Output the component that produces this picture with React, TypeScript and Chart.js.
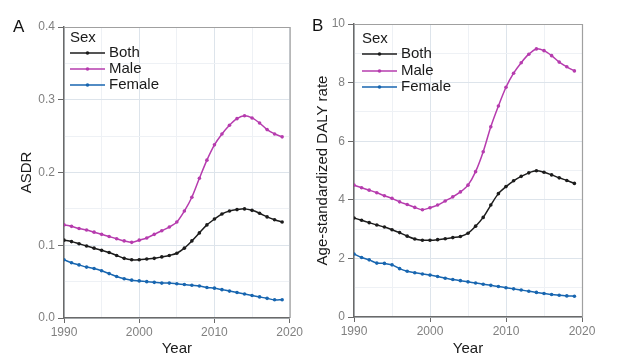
import React, { useEffect, useRef } from "react";
import { Chart, registerables } from "chart.js";

Chart.register(...registerables);

const years = [1990,1991,1992,1993,1994,1995,1996,1997,1998,1999,2000,2001,2002,2003,2004,2005,2006,2007,2008,2009,2010,2011,2012,2013,2014,2015,2016,2017,2018,2019];

const seriesLabels = ["Both", "Male", "Female"];

const asdrBoth = [0.107,0.105,0.102,0.099,0.096,0.093,0.090,0.086,0.082,0.080,0.080,0.081,0.082,0.084,0.086,0.089,0.096,0.106,0.117,0.128,0.136,0.143,0.147,0.149,0.150,0.148,0.144,0.139,0.135,0.132];
const asdrMale = [0.128,0.126,0.123,0.121,0.118,0.115,0.112,0.109,0.106,0.104,0.107,0.110,0.115,0.120,0.125,0.132,0.147,0.166,0.192,0.217,0.238,0.253,0.265,0.274,0.278,0.275,0.268,0.259,0.253,0.249];
const asdrFemale = [0.080,0.076,0.073,0.070,0.068,0.065,0.061,0.057,0.054,0.052,0.051,0.050,0.049,0.048,0.048,0.047,0.046,0.045,0.044,0.042,0.041,0.039,0.037,0.035,0.033,0.031,0.029,0.027,0.025,0.025];

const dalyBoth = [3.38,3.30,3.22,3.14,3.07,2.98,2.88,2.76,2.66,2.62,2.62,2.64,2.67,2.71,2.75,2.86,3.10,3.40,3.82,4.21,4.45,4.65,4.80,4.92,4.99,4.94,4.85,4.75,4.66,4.56];
const dalyMale = [4.50,4.41,4.33,4.24,4.14,4.05,3.93,3.84,3.74,3.66,3.73,3.82,3.96,4.10,4.27,4.50,4.96,5.64,6.49,7.20,7.84,8.32,8.68,8.97,9.15,9.09,8.92,8.70,8.54,8.40];
const dalyFemale = [2.15,2.03,1.95,1.84,1.83,1.78,1.65,1.56,1.51,1.47,1.43,1.38,1.32,1.28,1.24,1.20,1.16,1.12,1.08,1.04,1.00,0.96,0.92,0.88,0.84,0.80,0.77,0.74,0.72,0.71];

const colors = ["#1c1c1c", "#b63cae", "#1866b0"];

type PanelCfg = {
  letter: string;
  width: number;
  left: number;
  series: number[][];
  yMax: number;
  yStep: number;
  yTitle: string;
  yDecimals: number;
  axisWidth: number;
  padTop: number;
  padRight: number;
  xHeight: number;
  yTitlePad: number;
  legend: { dx: number; titleDy: number; rows: number[]; lineLen: number; textGap: number };
  letterPos: [number, number];
};

function Panel({ cfg }: { cfg: PanelCfg }) {
  const ref = useRef<HTMLCanvasElement>(null);
  useEffect(() => {
    if (!ref.current) return;
    const datasets = cfg.series.map((vals, i) => ({
      label: seriesLabels[i],
      data: years.map((y, j) => ({ x: y, y: vals[j] })),
      borderColor: colors[i],
      backgroundColor: colors[i],
      borderWidth: 1.5,
      pointRadius: 1.8,
      pointBorderWidth: 0,
      pointBackgroundColor: colors[i],
      tension: 0.3,
    }));
    const overlay = {
      id: "overlay",
      afterDraw(chart: any) {
        const ctx = chart.ctx;
        const a = chart.chartArea;
        ctx.save();
        ctx.strokeStyle = "#a0a0a0";
        ctx.lineWidth = 1.2;
        ctx.beginPath();
        ctx.moveTo(a.left, a.top + 0.5);
        ctx.lineTo(a.right + 0.5, a.top + 0.5);
        ctx.lineTo(a.right + 0.5, a.bottom);
        ctx.stroke();
        // legend
        const lg = cfg.legend;
        const x0 = a.left + lg.dx;
        ctx.fillStyle = "#1a1a1a";
        ctx.font = "15px 'Liberation Sans', Arial, sans-serif";
        ctx.textBaseline = "middle";
        ctx.textAlign = "left";
        ctx.fillText("Sex", x0, a.top + lg.titleDy);
        chart.data.datasets.forEach((ds: any, i: number) => {
          const yy = a.top + lg.rows[i];
          ctx.strokeStyle = ds.borderColor;
          ctx.lineWidth = 1.5;
          ctx.beginPath();
          ctx.moveTo(x0, yy);
          ctx.lineTo(x0 + lg.lineLen, yy);
          ctx.stroke();
          ctx.fillStyle = ds.borderColor;
          ctx.beginPath();
          ctx.arc(x0 + lg.lineLen / 2, yy, 1.8, 0, Math.PI * 2);
          ctx.fill();
          ctx.fillStyle = "#1a1a1a";
          ctx.fillText(ds.label, x0 + lg.lineLen + lg.textGap, yy);
        });
        // panel letter
        ctx.font = "17px 'Liberation Sans', Arial, sans-serif";
        ctx.fillStyle = "#111";
        ctx.fillText(cfg.letter, cfg.letterPos[0], cfg.letterPos[1]);
        ctx.restore();
      },
    };
    const gridColor = (c: any) => (c.index % 2 === 0 ? "#dde4eb" : "#eef1f5");
    const tickColor = (c: any) => (c.index % 2 === 0 ? "#6a6a6a" : "rgba(0,0,0,0)");
    const chart = new Chart(ref.current, {
      type: "line",
      data: { datasets },
      options: {
        animation: false,
        responsive: false,
        maintainAspectRatio: false,
        layout: { padding: { top: cfg.padTop, right: cfg.padRight, left: 0, bottom: 0 } },
        plugins: { legend: { display: false }, tooltip: { enabled: false } },
        scales: {
          x: {
            type: "linear",
            min: 1990,
            max: 2020,
            afterFit: (s: any) => { s.height = cfg.xHeight; },
            ticks: {
              stepSize: 5,
              autoSkip: false,
              maxRotation: 0,
              padding: 2,
              color: "#808080",
              font: { size: 12, family: "'Liberation Sans', Arial, sans-serif" },
              callback: (v: any) => (Number(v) % 10 === 0 ? String(v) : ""),
            },
            grid: { color: gridColor, tickColor, tickLength: 5, lineWidth: 1 },
            border: { display: true, color: "#6a6a6a", width: 1.5 },
            title: {
              display: true,
              text: "Year",
              color: "#1a1a1a",
              font: { size: 15, family: "'Liberation Sans', Arial, sans-serif" },
              padding: { top: 0, bottom: 6 },
            },
          },
          y: {
            type: "linear",
            min: 0,
            max: cfg.yMax,
            afterFit: (s: any) => { s.width = cfg.axisWidth; },
            ticks: {
              stepSize: cfg.yStep,
              autoSkip: false,
              padding: 3,
              color: "#808080",
              font: { size: 12, family: "'Liberation Sans', Arial, sans-serif" },
              callback: (v: any, i: number) => (i % 2 === 0 ? Number(v).toFixed(cfg.yDecimals) : ""),
            },
            grid: { color: gridColor, tickColor, tickLength: 6, lineWidth: 1 },
            border: { display: true, color: "#6a6a6a", width: 1.5 },
            title: {
              display: true,
              text: cfg.yTitle,
              color: "#1a1a1a",
              font: { size: 15, family: "'Liberation Sans', Arial, sans-serif" },
              padding: { top: cfg.yTitlePad, bottom: 0 },
            },
          },
        },
      },
      plugins: [overlay],
    } as any);
    return () => chart.destroy();
  }, [cfg]);
  return (
    <canvas
      ref={ref}
      width={cfg.width}
      height={364}
      style={{ position: "absolute", left: cfg.left, top: 0, width: cfg.width, height: 364 }}
    />
  );
}

const panelA: PanelCfg = {
  letter: "A",
  width: 305,
  left: 0,
  series: [asdrBoth, asdrMale, asdrFemale],
  yMax: 0.4,
  yStep: 0.05,
  yTitle: "ASDR",
  yDecimals: 1,
  axisWidth: 64,
  padTop: 27,
  padRight: 14,
  xHeight: 46,
  yTitlePad: 18,
  legend: { dx: 6, titleDy: 11, rows: [26, 42, 58], lineLen: 35, textGap: 4 },
  letterPos: [13, 27],
};

const panelB: PanelCfg = {
  letter: "B",
  width: 318,
  left: 305,
  series: [dalyBoth, dalyMale, dalyFemale],
  yMax: 10,
  yStep: 1,
  yTitle: "Age-standardized DALY rate",
  yDecimals: 0,
  axisWidth: 49,
  padTop: 24,
  padRight: 41,
  xHeight: 47,
  yTitlePad: 9,
  legend: { dx: 8, titleDy: 15, rows: [30, 47, 63], lineLen: 35, textGap: 4 },
  letterPos: [7, 26],
};

export default function App() {
  return (
    <div style={{ position: "absolute", left: 0, top: 0, width: 623, height: 364, background: "#fff" }}>
      <Panel cfg={panelA} />
      <Panel cfg={panelB} />
    </div>
  );
}
